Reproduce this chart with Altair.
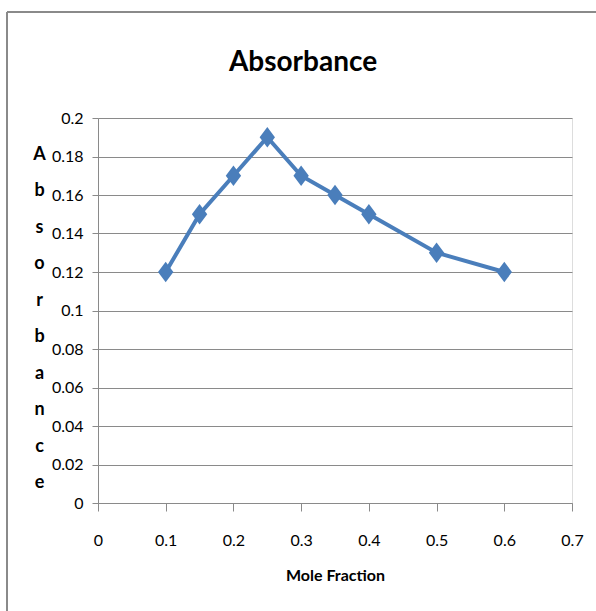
import altair as alt
import pandas as pd

mole_fraction = [0.1, 0.15, 0.2, 0.25, 0.3, 0.35, 0.4, 0.5, 0.6]
absorbance = [0.12, 0.15, 0.17, 0.19, 0.17, 0.16, 0.15, 0.13, 0.12]
x_ticks = [0, 0.1, 0.2, 0.3, 0.4, 0.5, 0.6, 0.7]
y_ticks = [0, 0.02, 0.04, 0.06, 0.08, 0.1, 0.12, 0.14, 0.16, 0.18, 0.2]
y_title_letters = list("Absorbance")

df = pd.DataFrame({"x": mole_fraction, "y": absorbance})

FONT = "Lato, Open Sans, sans-serif"
BLUE = "#4a7ebb"
GRAY = "#8a8a8a"

x_enc = alt.X(
    "x:Q",
    scale=alt.Scale(domain=[0, 0.7], nice=False, zero=True),
    axis=alt.Axis(
        values=x_ticks, format=".1~f", title="Mole Fraction", grid=False,
        domainColor=GRAY, tickColor=GRAY, tickSize=8,
        labelFont=FONT, labelFontSize=16, labelColor="#000", labelPadding=21,
        labelFlush=False, labelOverlap=False,
        titleFont=FONT, titleFontSize=16, titleFontWeight="bold", titleColor="#000",
        titlePadding=19,
    ),
)
y_enc = alt.Y(
    "y:Q",
    scale=alt.Scale(domain=[0, 0.2], nice=False),
    axis=alt.Axis(
        values=y_ticks, format=".2~f", title=y_title_letters, grid=True, gridColor=GRAY,
        domainColor=GRAY, tickColor=GRAY, tickSize=6,
        labelFont=FONT, labelFontSize=16, labelColor="#000", labelPadding=9,
        labelFlush=False, labelOverlap=False,
        titleFont=FONT, titleFontSize=18, titleFontWeight="bold", titleColor="#000",
        titleAngle=0, titleAlign="center", titleBaseline="top",
        titleX=-59, titleY=27, titleLineHeight=36.5,
    ),
)

base = alt.Chart(df).encode(x=x_enc, y=y_enc)
line = base.mark_line(color=BLUE, strokeWidth=4)
points = base.mark_point(
    shape="M0,-1L0.75,0L0,1L-0.75,0Z", size=420, filled=True, color=BLUE, opacity=1
)

border_left = alt.Chart(df).mark_rule(color=GRAY, strokeWidth=2).encode(
    x=alt.value(-91), y=alt.value(-106), y2=alt.value(520)
)
border_top = alt.Chart(df).mark_rule(color=GRAY, strokeWidth=2).encode(
    x=alt.value(-91), x2=alt.value(520), y=alt.value(-106)
)

chart = (
    alt.layer(border_left, border_top, line, points)
    .properties(
        width=474,
        height=385,
        autosize=alt.AutoSizeParams(type="none"),
        padding={"left": 98, "top": 118, "right": 24, "bottom": 108},
        title=alt.TitleParams(
            text="Absorbance", font=FONT, fontSize=28, fontWeight="bold",
            color="#000", anchor="middle", frame="group", dx=-32, offset=40, dy=106,
        ),
    )
    .configure_view(stroke=None)
    .configure(background="white")
)

chart.save("out.html", embed_options={"renderer": "svg", "actions": False})
